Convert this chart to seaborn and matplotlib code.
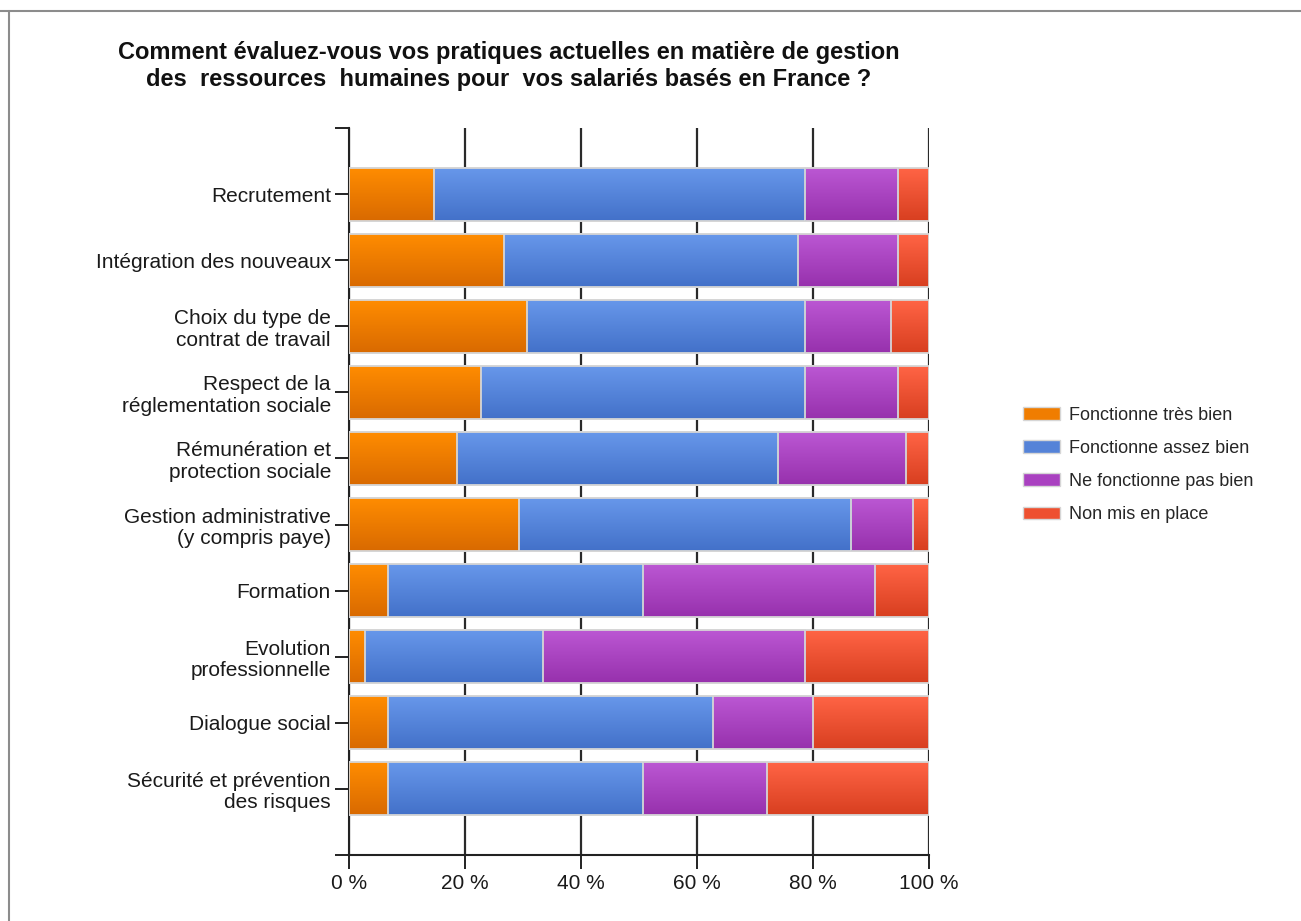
import numpy as np
import pandas as pd
import matplotlib
matplotlib.use("Agg")
import matplotlib.pyplot as plt
import matplotlib.colors as mcolors
from matplotlib.patches import Patch
from matplotlib.lines import Line2D
import seaborn as sns

# --- data (percent of respondents) ---
categories = [
    "Recrutement",
    "Intégration des nouveaux",
    "Choix du type de\ncontrat de travail",
    "Respect de la\nréglementation sociale",
    "Rémunération et\nprotection sociale",
    "Gestion administrative\n(y compris paye)",
    "Formation",
    "Evolution\nprofessionnelle",
    "Dialogue social",
    "Sécurité et prévention\ndes risques",
]
tres_bien = [14.7, 26.7, 30.7, 22.7, 18.7, 29.3, 6.7, 2.7, 6.7, 6.7]
assez_bien = [64.0, 50.7, 48.0, 56.0, 55.3, 57.3, 44.0, 30.7, 56.0, 44.0]
pas_bien = [16.0, 17.3, 14.7, 16.0, 22.0, 10.7, 40.0, 45.3, 17.3, 21.3]
non_place = [5.3, 5.3, 6.6, 5.3, 4.0, 2.7, 9.3, 21.3, 20.0, 28.0]

series_names = ["Fonctionne très bien", "Fonctionne assez bien",
                "Ne fonctionne pas bien", "Non mis en place"]
x_ticks = [0, 20, 40, 60, 80, 100]
x_tick_labels = ["0 %", "20 %", "40 %", "60 %", "80 %", "100 %"]
title_text = ("Comment évaluez-vous vos pratiques actuelles en matière de gestion\n"
              "des  ressources  humaines pour  vos salariés basés en France ?")

# gradient colours per series: (top, bottom)
grad = [("#ff8c00", "#d96a00"),
        ("#6797ea", "#4371c9"),
        ("#bb57d3", "#9731ad"),
        ("#ff6445", "#d83f20")]
legend_cols = ["#f07d00", "#5583d8", "#a941c0", "#ee5030"]

sns.set_theme(style="white")
plt.rcParams["font.family"] = ["Liberation Sans", "DejaVu Sans"]

df = pd.DataFrame({
    "cat": categories,
    "s0": tres_bien, "s1": assez_bien, "s2": pas_bien, "s3": non_place,
})
cols = ["s0", "s1", "s2", "s3"]
cum = df[cols].cumsum(axis=1)
for i, c in enumerate(cols):
    df["c" + str(i)] = cum[c]

fig = plt.figure(figsize=(13.01, 9.21), dpi=100)
ax = fig.add_axes([349 / 1301, 1 - 855 / 921, 580 / 1301, 727 / 921])

# stacked bars: widest cumulative first, each layer on top of the previous
layers = []
for i in reversed(range(4)):
    n_before = len(ax.patches)
    sns.barplot(data=df, x="c" + str(i), y="cat", orient="h", ax=ax,
                color=legend_cols[i], width=0.8, zorder=2 + (3 - i),
                edgecolor="#d6d6d6", linewidth=1.3)
    layers.append((i, ax.patches[n_before:]))

ax.set_ylim(10, -1)
ax.set_xlim(0, 100)

# vertical gradient fill for every segment
for i, patches in layers:
    cmap = mcolors.LinearSegmentedColormap.from_list("g", [grad[i][0], grad[i][1]])
    g = np.linspace(0, 1, 64).reshape(-1, 1)
    for p in patches:
        x0, y0 = p.get_x(), p.get_y()
        w, h = p.get_width(), p.get_height()
        z = p.get_zorder()
        ax.imshow(g, cmap=cmap, aspect="auto", origin="upper",
                  extent=(x0, x0 + w, y0 + h, y0), zorder=z - 0.01,
                  interpolation="bilinear")
        p.set_facecolor("none")

ax.set_ylim(10, -1)
ax.set_xlim(0, 100)

# axes styling
ax.grid(axis="x", color="#2a2a2a", linewidth=1.6)
ax.grid(axis="y", visible=False)
ax.set_axisbelow(True)
for s in ["top", "right"]:
    ax.spines[s].set_visible(False)
for s in ["left", "bottom"]:
    ax.spines[s].set_color("#222222")
    ax.spines[s].set_linewidth(1.5)

ax.set_xticks(x_ticks)
ax.set_xticklabels(x_tick_labels, fontsize=15, color="#1a1a1a")
ax.set_yticks(range(len(categories)))
ax.set_yticklabels(categories, fontsize=15, color="#1a1a1a", linespacing=1.15)
ax.set_yticks([-1, 10], minor=True)
ax.tick_params(axis="both", which="both", direction="out", length=10,
               width=1.4, color="#222222", left=True, bottom=True)
ax.tick_params(axis="y", pad=3)
ax.tick_params(axis="x", pad=4)
ax.set_xlabel("")
ax.set_ylabel("")

fig.text(509 / 1301, 1 - 66 / 921, title_text, ha="center", va="center",
         fontsize=17, fontweight="bold", linespacing=1.25, color="#111111")

handles = [Patch(facecolor=legend_cols[i], edgecolor="#d6d6d6", linewidth=1.0)
           for i in range(4)]
fig.legend(handles, series_names, loc="upper left",
           bbox_to_anchor=(1010 / 1301, 1 - 394 / 921), frameon=False,
           fontsize=13, handlelength=2.05, handleheight=0.7,
           labelspacing=0.9, handletextpad=0.5, borderpad=0.2)

# thin frame around the figure
fig.add_artist(Line2D([0, 1], [1 - 11 / 921] * 2, transform=fig.transFigure,
                      color="#8c8c8c", linewidth=1.5))
fig.add_artist(Line2D([9 / 1301] * 2, [0, 1 - 11 / 921], transform=fig.transFigure,
                      color="#8c8c8c", linewidth=1.5))

fig.savefig("out.png", dpi=100, facecolor="white")
